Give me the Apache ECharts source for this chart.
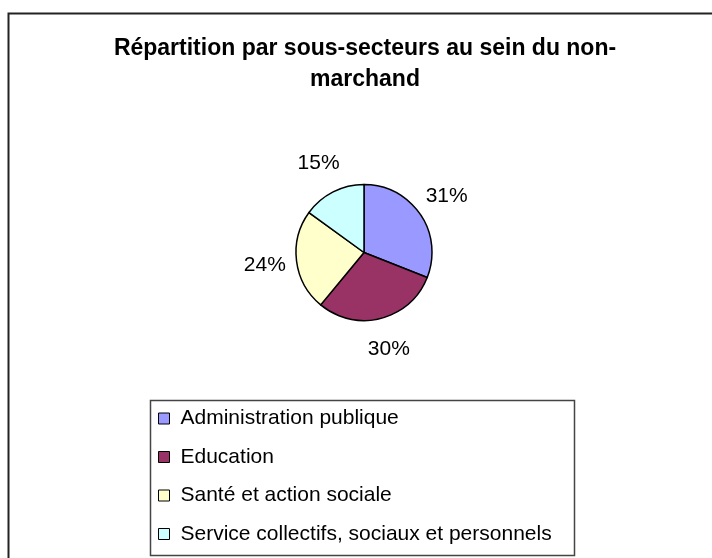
<!DOCTYPE html>
<html>
<head>
<meta charset="utf-8">
<script src="https://cdn.jsdelivr.net/npm/echarts@6/dist/echarts.min.js"></script>
<style>html,body{margin:0;padding:0;background:#fff}#c{width:712px;height:558px}</style>
</head>
<body>
<div id="c"></div>
<script>
var titleText = 'Répartition par sous-secteurs au sein du non-\nmarchand';
var categories = ['Administration publique', 'Education', 'Santé et action sociale', 'Service collectifs, sociaux et personnels'];
var values = [31, 30, 24, 15];
var colors = ['#9999FF', '#993366', '#FFFFCC', '#CCFFFF'];

var FONT = '"Liberation Sans", Arial, sans-serif';
var pieData = categories.map(function (n, i) { return { name: n, value: values[i], itemStyle: { color: colors[i] } }; });
var labelData = categories.map(function (n, i) { return { name: n, value: values[i] }; });

var chart = echarts.init(document.getElementById('c'));
chart.setOption({
  backgroundColor: '#fff',
  animation: false,
  title: {
    text: titleText,
    left: 365, top: 33, padding: 0, textAlign: 'center',
    textStyle: { fontFamily: FONT, fontSize: 23, fontWeight: 'bold', color: '#000', lineHeight: 31 }
  },
  legend: {
    data: categories,
    orient: 'vertical',
    left: 150, top: 400,
    padding: [8, 10, 8, 8],
    itemGap: 17.5,
    itemWidth: 11, itemHeight: 11,
    icon: 'rect',
    selectedMode: false,
    itemStyle: { borderColor: '#000', borderWidth: 1 },
    textStyle: { fontFamily: FONT, fontSize: 21, lineHeight: 21, color: '#000', padding: [0, 0, 0, 6] }
  },
  graphic: [
    { type: 'rect', silent: true, z: 100, shape: { x: 8.5, y: 13.5, width: 760, height: 600 }, style: { fill: null, stroke: '#222', lineWidth: 2 } },
    { type: 'rect', silent: true, z: 100, shape: { x: 150.5, y: 400.5, width: 424, height: 155 }, style: { fill: null, stroke: '#444', lineWidth: 1.5 } }
  ],
  series: [
    {
      type: 'pie', silent: true,
      center: [364, 252.5], radius: 68,
      startAngle: 90, clockwise: true,
      itemStyle: { borderColor: '#000', borderWidth: 1.5 },
      label: { show: false }, labelLine: { show: false },
      data: pieData
    },
    {
      type: 'pie', silent: true,
      center: [364, 252.5], radius: [68, 126],
      startAngle: 90, clockwise: true,
      itemStyle: { color: 'rgba(0,0,0,0)', borderWidth: 0 },
      label: { show: true, position: 'inside', formatter: '{c}%', fontFamily: FONT, fontSize: 21, color: '#000' },
      labelLine: { show: false },
      data: labelData
    }
  ]
});
</script>
</body>
</html>
